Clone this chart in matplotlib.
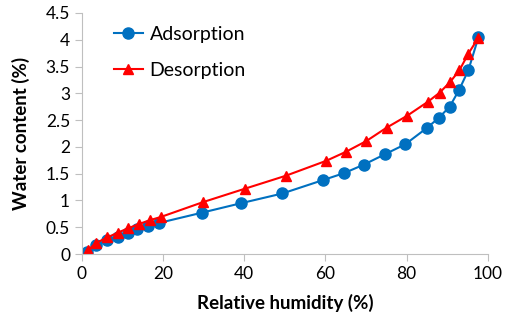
import numpy as np
import matplotlib.pyplot as plt

plt.rcParams['font.family'] = ['Lato', 'DejaVu Sans']

rh_ads = [1.3, 3.6, 6.2, 8.8, 11.3, 13.7, 16.3, 19.0, 29.5, 39.3, 49.4, 59.4, 64.6, 69.5, 74.6, 79.7, 85.1, 87.9, 90.6, 92.9, 95.2, 97.7]
wc_ads = [0.04, 0.17, 0.26, 0.32, 0.40, 0.47, 0.52, 0.58, 0.77, 0.95, 1.13, 1.38, 1.51, 1.67, 1.86, 2.05, 2.36, 2.54, 2.75, 3.06, 3.43, 4.05]

rh_des = [1.6, 3.6, 6.3, 8.9, 11.4, 14.1, 16.7, 19.4, 29.9, 40.2, 50.2, 60.2, 65.1, 70.1, 75.1, 80.1, 85.2, 88.1, 90.7, 93.0, 95.2, 97.7]
wc_des = [0.08, 0.21, 0.31, 0.40, 0.48, 0.56, 0.63, 0.69, 0.97, 1.22, 1.46, 1.74, 1.91, 2.11, 2.36, 2.58, 2.84, 3.01, 3.21, 3.43, 3.74, 4.04]

fig = plt.figure(figsize=(5.05, 3.24), dpi=100)
ax = fig.add_axes([0.162, 0.216, 0.804, 0.744])

ax.plot(rh_ads, wc_ads, color='#0070C0', marker='o', markersize=8, lw=1.5, label='Adsorption')
ax.plot(rh_des, wc_des, color='#FF0000', marker='^', markersize=7, lw=1.5, label='Desorption')

ax.set_xlim(0, 100)
ax.set_ylim(0, 4.5)
ax.set_xticks(np.arange(0, 101, 20))
ax.set_yticks(np.arange(0, 4.51, 0.5))
ax.set_yticklabels(['0', '0.5', '1', '1.5', '2', '2.5', '3', '3.5', '4', '4.5'])
ax.tick_params(labelsize=12.5, color='#BFBFBF', length=5, direction='out')
for s in ['top', 'right']:
    ax.spines[s].set_visible(False)
for s in ['left', 'bottom']:
    ax.spines[s].set_color('#BFBFBF')
ax.margins(0)
ax.set_xlabel('Relative humidity (%)', fontsize=13.5, fontweight='bold', labelpad=9)
ax.set_ylabel('Water content (%)', fontsize=13.5, fontweight='bold', labelpad=11)

ax.legend(loc='upper left', bbox_to_anchor=(0.035, 1.02), frameon=False, fontsize=14,
          handlelength=1.5, labelspacing=1.0, handletextpad=0.35)

fig.savefig('out.png', dpi=100)
